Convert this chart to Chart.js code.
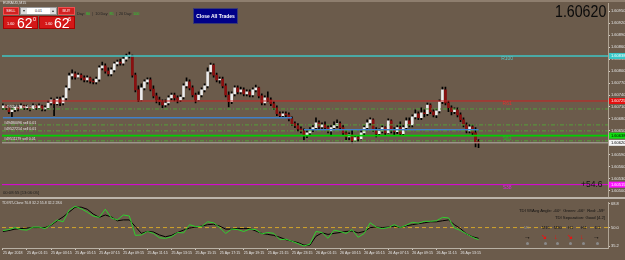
<!DOCTYPE html>
<html><head><meta charset="utf-8">
<script src="https://cdn.jsdelivr.net/npm/chart.js@4.4.1/dist/chart.umd.min.js"></script>
<style>
html,body{margin:0;padding:0;background:#6b5b4b;}
#wrap{position:relative;width:625px;height:260px;overflow:hidden;background:#6b5b4b;font-family:"Liberation Sans",Arial,sans-serif;}
canvas{position:absolute;left:0;}
#c1{top:0;}
#c2{top:199px;}
.t{position:absolute;white-space:nowrap;line-height:1;}
.btn{position:absolute;box-sizing:border-box;color:#fff;text-align:center;}
</style></head><body><div id="wrap">
<canvas id="c1" width="625" height="200"></canvas>
<canvas id="c2" width="625" height="61"></canvas>

<div style="position:absolute;left:0;top:0;width:625px;height:2px;background:#8e7e6e"></div>
<div style="position:absolute;left:0;top:197px;width:625px;height:2px;background:#bdb5ab"></div>

<div class="t" style="left:3px;top:2px;font-size:3.6px;color:#e0e0e0">EURAUD,M15</div>

<div class="btn" style="left:3px;top:7px;width:16px;height:8px;background:#d22020;border:1px solid #ee5050;font-size:3.8px;line-height:6px">SELL</div>
<div class="btn" style="left:20px;top:7px;width:37px;height:8px;background:#fff;border:1px solid #999;color:#222;font-size:3.6px;line-height:6px"><span style="position:absolute;left:0;top:0;width:6px;height:6px;background:#ddd;color:#333">▾</span>0.01<span style="position:absolute;right:0;top:0;width:6px;height:6px;background:#ddd;color:#333">▴</span></div>
<div class="btn" style="left:58px;top:7px;width:17px;height:8px;background:#d22020;border:1px solid #ee5050;font-size:3.8px;line-height:6px">BUY</div>
<div class="btn" style="left:3px;top:16px;width:35px;height:13px;background:#d41818;border:1px solid #a00"></div>
<div class="btn" style="left:39px;top:16px;width:36px;height:13px;background:#d41818;border:1px solid #a00"></div>
<div class="t" style="left:7px;top:23px;font-size:3.8px;color:#fff">1.60</div>
<div class="t" style="left:17px;top:16px;font-size:14px;color:#fff">62</div>
<div class="t" style="left:33px;top:17px;font-size:5.5px;color:#fff">0</div>
<div class="t" style="left:45px;top:23px;font-size:3.8px;color:#fff">1.60</div>
<div class="t" style="left:54px;top:16px;font-size:14px;color:#fff">62</div>
<div class="t" style="left:68px;top:17px;font-size:5.5px;color:#fff">6</div>

<div class="t" style="left:77px;top:12.5px;font-size:3.8px;color:#222">Day: <span style="color:#28d028">80</span> &nbsp;|&nbsp; 10 Day: <span style="color:#28d028">85</span> &nbsp;|&nbsp; 20 Day: <span style="color:#28d028">100</span></div>

<div class="btn" style="left:193px;top:8px;width:45px;height:16px;background:#000088;border:1px solid #3a3a70;font-size:5px;font-weight:bold;line-height:14px">Close All Trades</div>

<div class="t" style="left:555px;top:3px;font-size:16.5px;color:#0a0a0a;transform:scaleX(0.86);transform-origin:left top">1.60620</div>

<div class="t" style="left:3px;top:191px;font-size:4.2px;color:#1e1e1e">00:08:55 [13:06:05]</div>
<div class="t" style="left:581px;top:180px;font-size:8.5px;color:#111">+54.6</div>

<div class="t" style="left:2px;top:201.5px;font-size:3.5px;color:#e0e0e0">TDI RT-Clone 70.8 32.2 55.8 32.2 28.6</div>
<div class="t" style="right:20px;top:209px;font-size:4.2px;color:#111">TDI W/Avg Angle: -60°&nbsp; Green: -66°&nbsp; Red: -59°</div>
<div class="t" style="right:20px;top:216px;font-size:4.2px;color:#111">TDI Separation: Good [4.2]</div>
<div class="t" style="left:524px;top:226px;font-size:4px;color:#8a8a8a">M5</div>
<div class="t" style="left:542px;top:226px;font-size:4px;color:#111">M15</div>
<div class="t" style="left:554px;top:226px;font-size:4px;color:#111">M30</div>
<div class="t" style="left:568px;top:226px;font-size:4px;color:#111">H1</div>
<div class="t" style="left:581px;top:226px;font-size:4px;color:#111">H4</div>
<div class="t" style="left:595px;top:226px;font-size:4px;color:#111">D1</div>
<div class="t" style="left:524px;top:233px;font-size:7px;font-weight:bold;color:#000">→</div>
<div class="t" style="left:541px;top:233px;font-size:7px;font-weight:bold;color:#f01010">↘</div>
<div class="t" style="left:554px;top:233px;font-size:7px;font-weight:bold;color:#f01010">↓</div>
<div class="t" style="left:567px;top:233px;font-size:7px;font-weight:bold;color:#f01010">↘</div>
<div class="t" style="left:580px;top:233px;font-size:7px;font-weight:bold;color:#f01010">↓</div>
<div class="t" style="left:593px;top:233px;font-size:7px;font-weight:bold;color:#000">→</div>
<div style="position:absolute;left:526px;top:242px;width:3px;height:3px;border-radius:50%;background:#8a8a8a"></div>
<div style="position:absolute;left:544px;top:242px;width:3px;height:3px;border-radius:50%;background:#8a8a8a"></div>
<div style="position:absolute;left:556px;top:242px;width:3px;height:3px;border-radius:50%;background:#8a8a8a"></div>
<div style="position:absolute;left:569px;top:242px;width:3px;height:3px;border-radius:50%;background:#8a8a8a"></div>
<div style="position:absolute;left:582px;top:242px;width:3px;height:3px;border-radius:50%;background:#8a8a8a"></div>
<div style="position:absolute;left:596px;top:242px;width:3px;height:3px;border-radius:50%;background:#8a8a8a"></div>
</div>
<script>
// ---------- data ----------
const timeLabels = ['25 Apr 2018','25 Apr 01:15','25 Apr 03:15','25 Apr 05:15','25 Apr 07:15','25 Apr 09:15','25 Apr 11:15','25 Apr 13:15','25 Apr 15:15','25 Apr 17:15','25 Apr 19:15','25 Apr 21:15','25 Apr 23:15','26 Apr 01:15','26 Apr 03:15','26 Apr 05:15','26 Apr 07:15','26 Apr 09:15','26 Apr 11:15','26 Apr 13:15'];
const barsPerLabel = 8;

const openP = [
1.60708,1.60713,1.60708,1.60698,1.60703,1.60710,1.60705,1.60713,1.60708,1.60710,
1.60705,1.60713,1.60708,1.60713,1.60705,1.60708,1.60720,1.60728,1.60718,1.60730,
1.60720,1.60733,1.60758,1.60788,1.60793,1.60785,1.60790,1.60783,1.60778,1.60783,
1.60775,1.60773,1.60780,1.60808,1.60813,1.60800,1.60793,1.60803,1.60818,1.60823,
1.60820,1.60830,1.60838,1.60838,1.60790,1.60753,1.60728,1.60758,1.60773,1.60778,
1.60755,1.60738,1.60728,1.60723,1.60715,1.60720,1.60733,1.60740,1.60733,1.60728,
1.60735,1.60763,1.60773,1.60758,1.60740,1.60728,1.60740,1.60753,1.60763,1.60798,
1.60815,1.60790,1.60778,1.60780,1.60763,1.60740,1.60723,1.60743,1.60758,1.60748,
1.60753,1.60743,1.60748,1.60740,1.60753,1.60758,1.60738,1.60720,1.60733,1.60728,
1.60718,1.60708,1.60693,1.60688,1.60693,1.60690,1.60680,1.60668,1.60663,1.60655,
1.60650,1.60638,1.60645,1.60653,1.60658,1.60670,1.60660,1.60665,1.60658,1.60650,
1.60658,1.60663,1.60668,1.60658,1.60645,1.60635,1.60640,1.60625,1.60633,1.60630,
1.60645,1.60658,1.60670,1.60678,1.60653,1.60643,1.60650,1.60658,1.60645,1.60675,
1.60653,1.60648,1.60658,1.60643,1.60658,1.60675,1.60665,1.60685,1.60693,1.60683,
1.60695,1.60693,1.60715,1.60698,1.60690,1.60700,1.60723,1.60753,1.60720,1.60708,
1.60698,1.60703,1.60690,1.60678,1.60665,1.60650,1.60660,1.60645,1.60623];
const highP = [
1.60718,1.60715,1.60713,1.60708,1.60715,1.60715,1.60718,1.60715,1.60715,1.60713,
1.60718,1.60715,1.60718,1.60715,1.60713,1.60725,1.60733,1.60730,1.60735,1.60735,
1.60738,1.60763,1.60795,1.60803,1.60798,1.60795,1.60793,1.60788,1.60788,1.60785,
1.60780,1.60785,1.60813,1.60823,1.60818,1.60808,1.60808,1.60823,1.60828,1.60830,
1.60835,1.60843,1.60848,1.60840,1.60795,1.60763,1.60768,1.60778,1.60783,1.60783,
1.60763,1.60745,1.60735,1.60728,1.60728,1.60738,1.60745,1.60745,1.60738,1.60740,
1.60768,1.60783,1.60778,1.60763,1.60745,1.60748,1.60758,1.60768,1.60808,1.60820,
1.60818,1.60795,1.60785,1.60785,1.60768,1.60748,1.60748,1.60763,1.60763,1.60760,
1.60758,1.60753,1.60753,1.60758,1.60765,1.60760,1.60743,1.60738,1.60748,1.60733,
1.60723,1.60713,1.60698,1.60698,1.60698,1.60695,1.60685,1.60673,1.60668,1.60660,
1.60655,1.60650,1.60658,1.60663,1.60683,1.60675,1.60670,1.60673,1.60663,1.60663,
1.60673,1.60678,1.60673,1.60663,1.60653,1.60645,1.60653,1.60638,1.60638,1.60650,
1.60663,1.60678,1.60683,1.60680,1.60658,1.60655,1.60663,1.60660,1.60680,1.60678,
1.60658,1.60663,1.60673,1.60663,1.60683,1.60683,1.60690,1.60703,1.60698,1.60708,
1.60703,1.60720,1.60718,1.60703,1.60705,1.60728,1.60760,1.60760,1.60725,1.60713,
1.60708,1.60708,1.60695,1.60683,1.60670,1.60665,1.60665,1.60658,1.60628];
const lowP = [
1.60703,1.60703,1.60693,1.60683,1.60698,1.60700,1.60703,1.60703,1.60703,1.60700,
1.60703,1.60703,1.60705,1.60700,1.60700,1.60705,1.60715,1.60688,1.60715,1.60713,
1.60715,1.60728,1.60753,1.60780,1.60780,1.60783,1.60778,1.60773,1.60773,1.60770,
1.60768,1.60768,1.60775,1.60803,1.60795,1.60788,1.60788,1.60798,1.60813,1.60815,
1.60815,1.60825,1.60833,1.60785,1.60748,1.60723,1.60725,1.60753,1.60768,1.60750,
1.60733,1.60720,1.60715,1.60708,1.60710,1.60715,1.60728,1.60725,1.60720,1.60723,
1.60730,1.60758,1.60753,1.60735,1.60720,1.60725,1.60735,1.60748,1.60758,1.60793,
1.60785,1.60773,1.60770,1.60758,1.60735,1.60710,1.60718,1.60738,1.60743,1.60743,
1.60738,1.60738,1.60735,1.60735,1.60748,1.60733,1.60715,1.60715,1.60723,1.60713,
1.60703,1.60688,1.60683,1.60683,1.60685,1.60675,1.60663,1.60658,1.60650,1.60645,
1.60628,1.60633,1.60640,1.60648,1.60653,1.60655,1.60655,1.60653,1.60645,1.60640,
1.60653,1.60658,1.60653,1.60640,1.60628,1.60628,1.60620,1.60623,1.60625,1.60628,
1.60640,1.60653,1.60665,1.60648,1.60635,1.60638,1.60645,1.60640,1.60643,1.60645,
1.60640,1.60643,1.60638,1.60638,1.60653,1.60660,1.60660,1.60680,1.60678,1.60678,
1.60685,1.60688,1.60693,1.60685,1.60683,1.60695,1.60718,1.60715,1.60698,1.60690,
1.60693,1.60685,1.60673,1.60660,1.60645,1.60645,1.60640,1.60610,1.60608];
const closeP = [
1.60713,1.60708,1.60698,1.60703,1.60710,1.60705,1.60713,1.60708,1.60710,1.60705,
1.60713,1.60708,1.60713,1.60705,1.60708,1.60720,1.60728,1.60718,1.60730,1.60720,
1.60733,1.60758,1.60788,1.60793,1.60785,1.60790,1.60783,1.60778,1.60783,1.60775,
1.60773,1.60780,1.60808,1.60813,1.60800,1.60793,1.60803,1.60818,1.60823,1.60820,
1.60830,1.60838,1.60840,1.60790,1.60753,1.60728,1.60758,1.60773,1.60778,1.60755,
1.60738,1.60728,1.60723,1.60715,1.60720,1.60733,1.60740,1.60733,1.60728,1.60735,
1.60763,1.60773,1.60758,1.60740,1.60728,1.60740,1.60753,1.60763,1.60798,1.60815,
1.60790,1.60778,1.60780,1.60763,1.60740,1.60723,1.60743,1.60758,1.60748,1.60753,
1.60743,1.60748,1.60740,1.60753,1.60758,1.60738,1.60720,1.60733,1.60728,1.60718,
1.60708,1.60693,1.60688,1.60693,1.60690,1.60680,1.60668,1.60663,1.60655,1.60650,
1.60638,1.60645,1.60653,1.60658,1.60670,1.60660,1.60665,1.60658,1.60650,1.60658,
1.60663,1.60668,1.60658,1.60645,1.60635,1.60640,1.60625,1.60633,1.60630,1.60645,
1.60658,1.60670,1.60678,1.60653,1.60643,1.60650,1.60658,1.60645,1.60675,1.60653,
1.60648,1.60658,1.60643,1.60658,1.60675,1.60665,1.60685,1.60693,1.60683,1.60695,
1.60693,1.60715,1.60698,1.60690,1.60700,1.60723,1.60753,1.60720,1.60708,1.60698,
1.60703,1.60690,1.60678,1.60665,1.60650,1.60660,1.60645,1.60620,1.60620];

const priceTicks = [1.60500,1.60530,1.60560,1.60590,1.60620,1.60650,1.60680,1.60710,1.60740,1.60770,1.60800,1.60830,1.60860,1.60890,1.60920,1.60950];

const levelNames  = ['R100','R61','S61','S38'];
const levelPrices = [1.60838,1.60725,1.60638,1.60515];

const orderTickets = ['#49525671 sell 0.01','#49480096 sell 0.01','#49527214 sell 0.01','#49511179 sell 0.01'];
const orderPrices  = [1.60705,1.60665,1.60650,1.60625];

const srPrices = [1.60683,1.60653];
const srFromBar = [0,100];
const srToBar = [96,158];

const bidPrice = 1.60620;

// TDI values, one every 2 bars
const tdiStep = 2;
const tdiFast = [
47.7,48.4,50.0,48.4,48.0,50.4,50.4,49.2,52.3,56.1,
54.6,63.8,66.9,65.0,62.3,59.2,58.1,64.6,57.7,56.1,
60.0,59.2,43.8,44.2,46.9,45.4,41.9,41.5,42.7,46.1,
45.8,52.3,50.8,50.8,54.6,53.8,50.0,45.4,48.8,48.4,
46.9,48.8,48.4,45.0,46.1,45.4,40.4,40.8,39.2,37.3,
35.4,36.9,46.9,46.1,41.5,48.0,46.9,45.4,48.4,42.3,
45.4,53.8,50.4,49.2,50.0,52.3,50.0,51.9,54.2,53.5,
55.0,55.0,55.4,58.1,57.7,49.6,47.7,45.0,42.3,40.4];
const tdiSlow = [
46.9,47.7,48.8,49.2,49.6,50.0,50.0,50.0,51.9,55.4,
58.5,62.3,66.2,66.2,64.6,60.8,58.1,60.0,58.5,55.4,
56.1,56.1,50.8,45.4,46.9,46.5,44.2,42.7,43.8,46.1,
48.0,49.6,50.4,51.2,52.3,52.7,51.2,48.8,48.8,49.2,
49.2,49.2,47.3,45.4,44.6,43.8,42.3,40.4,39.2,38.1,
36.1,36.1,43.1,45.8,44.6,45.4,46.1,46.9,47.3,45.8,
46.9,50.0,50.4,50.0,50.4,51.2,50.0,51.5,52.3,53.1,
53.8,54.6,54.6,55.4,56.1,52.3,49.2,45.0,42.7,41.5];
const tdiLevel = 50;
const tdiTicks = [68.8,50,35.2];

// ---------- styles ----------
const X_MIN = -0.3, X_MAX = 201;
const levelColors = ['#3ec4c4','#cc2222','#00d000','#e000e0'];
const levelTextColors = ['#5cc8c8','#e03030','#20c020','#e020e0'];
const axisBoxes = [
  {v: levelPrices[0], bg:'#38c8c8', fg:'#ffffff'},
  {v: levelPrices[1], bg:'#e41010', fg:'#ffffff'},
  {v: levelPrices[2], bg:'#10e010', fg:'#000000'},
  {v: bidPrice,       bg:'#f4f4f4', fg:'#000000'},
  {v: levelPrices[3], bg:'#ff10ff', fg:'#ffffff'}
];
const FONT = '"Liberation Sans", Arial, sans-serif';
Chart.defaults.font.family = FONT;

const nBars = openP.length;
const bodies = [], wicks = [], bodyColors = [];
for (let i = 0; i < nBars; i++) {
  bodies.push({x: i, y: [openP[i], closeP[i]]});
  wicks.push({x: i, y: [lowP[i], highP[i]]});
  bodyColors.push(closeP[i] >= openP[i] ? '#ececec' : '#8a1010');
}
function hline(p, a, b) { return [{x: a, y: p}, {x: b, y: p}]; }
const lineDs = (data, color, width, dash) => ({type:'line', data, borderColor:color, borderWidth:width, borderDash:dash||[], pointRadius:0, order:1, tension:0});

const datasets = [
  {type:'bar', data: wicks, backgroundColor:'#000', barThickness:1, grouped:false, order:3},
  {type:'bar', data: bodies, backgroundColor: bodyColors, borderWidth:0, barThickness:2, grouped:false, order:2},
  lineDs(hline(levelPrices[0], X_MIN, X_MAX), levelColors[0], 1.5),
  lineDs(hline(levelPrices[1], X_MIN, X_MAX), levelColors[1], 1),
  lineDs(hline(levelPrices[3], X_MIN, X_MAX), levelColors[3], 1),
  lineDs(hline(bidPrice, X_MIN, X_MAX), '#b4b0aa', 1),
  lineDs(hline(levelPrices[2], X_MIN, X_MAX), levelColors[2], 1.6),
];
orderPrices.forEach(p => datasets.push(lineDs(hline(p, X_MIN, X_MAX), '#54a03a', 1, [4,2,1,2])));
srPrices.forEach((p, i) => datasets.push(lineDs(hline(p, srFromBar[i], srToBar[i]), '#4080c8', 1.5)));

const labelsPlugin = {
  id: 'lineLabels',
  afterDatasetsDraw(chart) {
    const {ctx, scales: {x, y}} = chart;
    ctx.save();
    ctx.font = '3.6px ' + FONT;
    ctx.fillStyle = '#e6e6e6';
    ctx.textAlign = 'left'; ctx.textBaseline = 'bottom';
    orderTickets.forEach((t, i) => ctx.fillText(t, x.getPixelForValue(0) + 1, y.getPixelForValue(orderPrices[i]) - 0.5));
    ctx.font = '5px ' + FONT;
    ctx.textAlign = 'center'; ctx.textBaseline = 'top';
    levelNames.forEach((n, i) => {
      ctx.fillStyle = levelTextColors[i];
      ctx.fillText(n, x.getPixelForValue(167.5), y.getPixelForValue(levelPrices[i]) + 0.5);
    });
    ctx.restore();
  }
};

new Chart(document.getElementById('c1'), {
  type: 'bar',
  data: {datasets},
  options: {
    responsive: false, animation: false, devicePixelRatio: 1,
    layout: {padding: {left: 2, right: 0, top: 3, bottom: 3}},
    plugins: {legend: {display: false}, tooltip: {enabled: false}},
    scales: {
      x: {type: 'linear', min: X_MIN, max: X_MAX, offset: false, display: false},
      y: {
        type: 'linear', position: 'right', min: 1.60485, max: 1.60970,
        afterFit(s) { s.width = 17; },
        afterBuildTicks(s) {
          s.ticks = priceTicks.map(v => ({value: v})).concat(axisBoxes.map(b => ({value: b.v, box: b})));
        },
        grid: {display: true, drawOnChartArea: false, tickLength: 2, color: '#d8d0c8'},
        border: {display: true, color: '#b0a494', width: 1},
        ticks: {
          autoSkip: false, padding: 1,
          font: {size: 4},
          callback: v => v.toFixed(5),
          color: c => (c.tick && c.tick.box) ? c.tick.box.fg : '#e4e4e4',
          showLabelBackdrop: c => !!(c.tick && c.tick.box),
          backdropColor: c => (c.tick && c.tick.box) ? c.tick.box.bg : 'rgba(0,0,0,0)',
          backdropPadding: {left: 2, right: 3, top: 0.6, bottom: 0.6}
        }
      }
    }
  },
  plugins: [labelsPlugin]
});

const tdiPts = arr => arr.map((v, k) => ({x: k * tdiStep, y: v}));
new Chart(document.getElementById('c2'), {
  type: 'line',
  data: {datasets: [
    {data: tdiPts(tdiFast), borderColor: '#2ed12e', borderWidth: 1, pointRadius: 0, tension: 0},
    {data: tdiPts(tdiSlow), borderColor: '#000000', borderWidth: 1, pointRadius: 0, tension: 0},
    {data: hline(tdiLevel, X_MIN, X_MAX), borderColor: '#d4a52a', borderWidth: 1, borderDash: [4, 3], pointRadius: 0}
  ]},
  options: {
    responsive: false, animation: false, devicePixelRatio: 1,
    layout: {padding: {left: 2, right: 0, top: 2, bottom: 0}},
    plugins: {legend: {display: false}, tooltip: {enabled: false}},
    scales: {
      x: {
        type: 'linear', min: X_MIN, max: X_MAX,
        afterFit(s) { s.height = 12; },
        afterBuildTicks(s) { s.ticks = timeLabels.map((_, i) => ({value: i * barsPerLabel})); },
        grid: {display: true, drawOnChartArea: false, tickLength: 2, color: '#d0c8c0'},
        border: {display: true, color: '#b8b0a4'},
        ticks: {autoSkip: false, maxRotation: 0, align: 'start', padding: 1, font: {size: 3.6}, color: '#e4e4e4',
          callback: v => timeLabels[Math.round(v / barsPerLabel)]}
      },
      y: {
        type: 'linear', position: 'right', min: 33.8, max: 70,
        afterFit(s) { s.width = 17; },
        afterBuildTicks(s) { s.ticks = tdiTicks.map(v => ({value: v})); },
        grid: {display: true, drawOnChartArea: false, tickLength: 2, color: '#d0c8c0'},
        border: {display: true, color: '#b0a494'},
        ticks: {autoSkip: false, padding: 1, font: {size: 4}, color: '#e4e4e4', callback: v => v.toFixed(1)}
      }
    }
  }
});
</script>
</body></html>
